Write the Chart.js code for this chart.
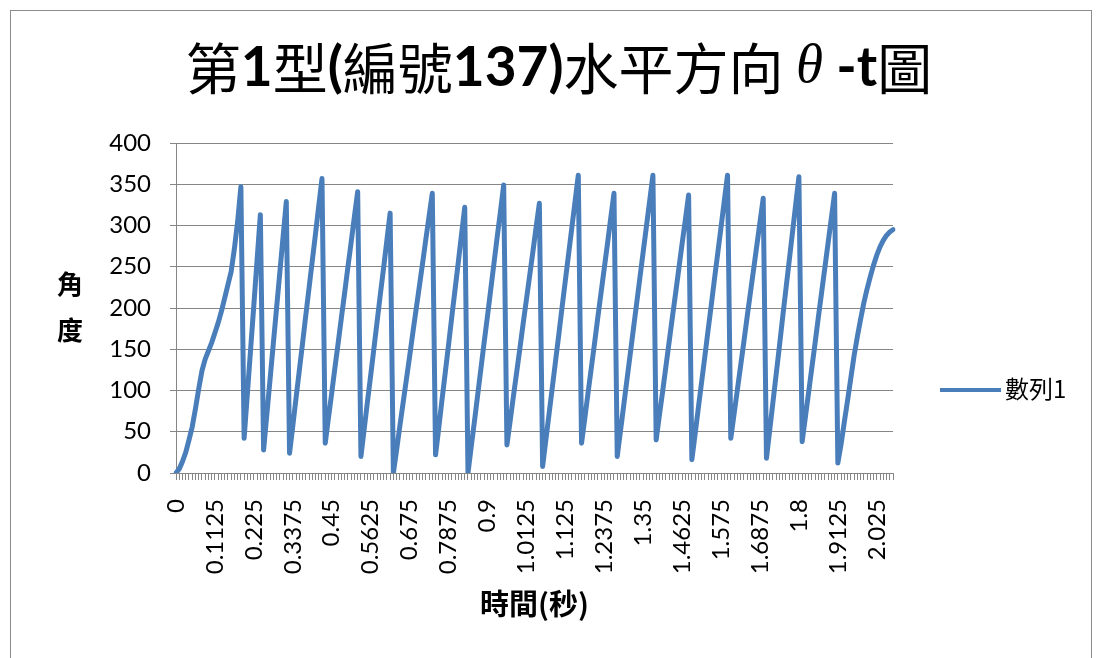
<!DOCTYPE html>
<html lang="zh-Hant">
<head>
<meta charset="UTF-8">
<title>第1型(編號137)水平方向θ-t圖</title>
<script src="https://cdn.jsdelivr.net/npm/chart.js@4.4.0/dist/chart.umd.min.js"></script>
<style>
    body { margin: 0; background: #fff; }
    #caixa { width: 1102px; height: 658px; position: relative; }
</style>
</head>
<body>
<div id="caixa"><canvas id="grafico"></canvas></div>
<script>
// serie: angulo (graus) a cada passo de tempo
const seriesName = '數列1';
const timeStep = 0.009375; // segundos entre pontos
const angles = [
    0, 5, 14, 25, 40, 56, 78, 102, 124, 138, 148, 158, 170, 182, 196, 212, 228, 244, 272, 305, 347, 42,
    96, 150, 204, 259, 313, 28,
    71, 114, 157, 200, 243, 286, 329, 24,
    57, 91, 124, 157, 191, 224, 257, 290, 324, 357, 36,
    67, 97, 128, 158, 189, 219, 250, 280, 311, 341, 20,
    53, 86, 118, 151, 184, 217, 249, 282, 315, 0,
    28, 57, 85, 113, 141, 170, 198, 226, 254, 283, 311, 339, 22,
    55, 89, 122, 155, 189, 222, 255, 289, 322, 0,
    32, 63, 95, 127, 159, 190, 222, 254, 286, 317, 349, 34,
    63, 93, 122, 151, 181, 210, 239, 268, 298, 327, 8,
    40, 72, 104, 136, 168, 201, 233, 265, 297, 329, 361, 36,
    66, 97, 127, 157, 188, 218, 248, 278, 309, 339, 20,
    51, 82, 113, 144, 175, 206, 237, 268, 299, 330, 361, 40,
    70, 99, 129, 159, 189, 218, 248, 278, 307, 337, 16,
    47, 79, 110, 141, 173, 204, 236, 267, 298, 330, 361, 42,
    71, 100, 129, 158, 188, 217, 246, 275, 304, 333, 18,
    52, 86, 120, 154, 189, 223, 257, 291, 325, 359, 38,
    68, 98, 128, 158, 189, 219, 249, 279, 309, 339, 12,
    35, 62, 88, 115, 142, 165, 186, 206, 223, 238, 252, 264, 274, 282, 288, 292, 295
];
// rotulos mostrados no eixo x (um a cada 12 categorias)
const tickLabels = ['0', '0.1125', '0.225', '0.3375', '0.45', '0.5625', '0.675', '0.7875', '0.9',
    '1.0125', '1.125', '1.2375', '1.35', '1.4625', '1.575', '1.6875', '1.8', '1.9125', '2.025'];
const labelEvery = 12;
const yTicks = [0, 50, 100, 150, 200, 250, 300, 350, 400];

const categories = angles.map((a, i) => +(i * timeStep).toFixed(6));

const cjk = '"Noto Sans CJK TC"';
const titleRuns = [
    { text: '第', font: '55px ' + cjk },
    { text: '1', font: 'bold 55px Lato' },
    { text: '型', font: '55px ' + cjk },
    { text: '(', font: 'bold 55px Lato' },
    { text: '編號', font: '55px ' + cjk },
    { text: '137)', font: 'bold 55px Lato' },
    { text: '水平方向 ', font: '55px ' + cjk },
    { text: 'θ', font: 'italic 55px "Liberation Serif"' },
    { text: ' -t', font: 'bold 55px Lato' },
    { text: '圖', font: '55px ' + cjk }
];

// titulo, titulo do eixo y, legenda e moldura
const extras = {
    id: 'extras',
    afterDraw(chart) {
        const ctx = chart.ctx;
        ctx.save();
        ctx.strokeStyle = '#8c8c8c';
        ctx.lineWidth = 1;
        ctx.strokeRect(10.5, 10.5, 1081, 670);

        ctx.fillStyle = '#000';
        ctx.textBaseline = 'middle';
        ctx.textAlign = 'left';
        let w = 0;
        titleRuns.forEach(r => { ctx.font = r.font; w += ctx.measureText(r.text).width; });
        let x = 559 - w / 2;
        titleRuns.forEach(r => {
            ctx.font = r.font;
            ctx.fillText(r.text, x, 68);
            x += ctx.measureText(r.text).width;
        });

        ctx.font = 'bold 26px ' + cjk;
        ctx.textAlign = 'center';
        ctx.fillText('角', 70, 284);
        ctx.fillText('度', 70, 330);

        const ds = chart.data.datasets[0];
        ctx.strokeStyle = ds.borderColor;
        ctx.lineWidth = 4;
        ctx.beginPath();
        ctx.moveTo(940, 390);
        ctx.lineTo(1001, 390);
        ctx.stroke();
        ctx.textAlign = 'left';
        ctx.font = '24px ' + cjk;
        ctx.fillText(ds.label, 1005, 389);
        ctx.restore();
    }
};

new Chart(document.getElementById('grafico'), {
    type: 'line',
    data: {
        labels: categories,
        datasets: [{
            label: seriesName,
            data: angles,
            borderColor: '#4a7ebb',
            borderWidth: 5,
            borderJoinStyle: 'round',
            borderCapStyle: 'round',
            pointRadius: 0,
            tension: 0,
            fill: false
        }]
    },
    options: {
        responsive: true,
        maintainAspectRatio: false,
        animation: false,
        layout: { padding: { left: 96, top: 143, right: 209, bottom: 35 } },
        plugins: { legend: { display: false }, tooltip: { enabled: false }, title: { display: false } },
        scales: {
            x: {
                grid: { drawOnChartArea: false, drawTicks: true, tickLength: 7, color: '#868686' },
                border: { color: '#868686' },
                ticks: {
                    autoSkip: false, minRotation: 90, maxRotation: 90, padding: 19, color: '#000',
                    font: { family: 'Lato', size: 24 },
                    callback: (v, i) => i % labelEvery === 0 ? tickLabels[i / labelEvery] : ''
                },
                title: {
                    display: true, text: '時間(秒)', color: '#000',
                    font: { family: cjk, size: 29, weight: 'bold' }, padding: { top: 0, bottom: 2 }
                },
                afterFit: s => { s.height = 150; }
            },
            y: {
                min: yTicks[0],
                max: yTicks[yTicks.length - 1],
                ticks: { stepSize: 50, color: '#000', font: { family: 'Lato', size: 24 }, padding: 19 },
                grid: { color: '#868686', tickLength: 6 },
                border: { color: '#868686' },
                afterFit: s => { s.width = 80; }
            }
        }
    },
    plugins: [extras]
});
</script>
</body>
</html>
